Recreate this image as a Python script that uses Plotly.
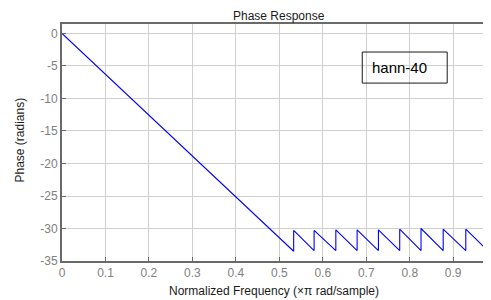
import plotly.graph_objects as go

# Phase response vertices (normalized frequency, radians)
freq = [0.0, 0.533, 0.533, 0.580, 0.580, 0.630, 0.630, 0.679, 0.679, 0.728, 0.728,
        0.777, 0.777, 0.826, 0.826, 0.877, 0.877, 0.929, 0.929, 0.978, 0.978, 0.995]
phase = [0.0, -33.5, -30.3, -33.4, -30.3, -33.4, -30.2, -33.4, -30.2, -33.4, -30.2,
         -33.4, -30.1, -33.4, -30.0, -33.4, -30.1, -33.4, -30.1, -33.3, -30.1, -31.2]

x_ticks = [0, 0.1, 0.2, 0.3, 0.4, 0.5, 0.6, 0.7, 0.8, 0.9]
x_tick_labels = ["0", "0.1", "0.2", "0.3", "0.4", "0.5", "0.6", "0.7", "0.8", "0.9"]
y_ticks = [0, -5, -10, -15, -20, -25, -30, -35]
y_tick_labels = ["0", "-5", "-10", "-15", "-20", "-25", "-30", "-35"]

title_text = "Phase Response"
x_title = "Normalized Frequency (\u00d7\u03c0 rad/sample)"
y_title = "Phase (radians)"
legend_text = "hann-40"

FONT = "Liberation Sans, Arial, sans-serif"

fig = go.Figure()
fig.add_trace(go.Scatter(x=freq, y=phase, mode="lines",
                         line=dict(color="#0000ff", width=1.1), showlegend=False,
                         hoverinfo="skip"))

# the page body has an 8px default margin, so the figure is shifted to compensate
fig.update_layout(
    width=483, height=292,
    margin=dict(l=53.5, r=0, t=16, b=39, autoexpand=False),
    paper_bgcolor="white", plot_bgcolor="white",
    font=dict(family=FONT, size=12, color="#808080"),
    xaxis=dict(range=[0, 0.987], tickvals=x_ticks, ticktext=x_tick_labels,
               showgrid=True, gridcolor="#cfcfcf", gridwidth=1,
               showline=True, linecolor="#6a6a6a", linewidth=2, mirror=True,
               ticks="inside", ticklen=4, tickcolor="#6a6a6a",
               zeroline=False, fixedrange=True, automargin=False,
               tickfont=dict(family=FONT, size=12, color="#808080")),
    yaxis=dict(range=[-35, 1.46], tickvals=y_ticks, ticktext=y_tick_labels,
               showgrid=True, gridcolor="#cfcfcf", gridwidth=1,
               showline=True, linecolor="#6a6a6a", linewidth=2,
               ticks="inside", ticklen=4, tickcolor="#6a6a6a",
               zeroline=False, fixedrange=True, automargin=False,
               tickfont=dict(family=FONT, size=12, color="#808080")),
    annotations=[
        dict(text=title_text, xref="paper", yref="paper", x=0.505, y=1.034,
             xanchor="center", yanchor="middle", showarrow=False,
             font=dict(family=FONT, size=12, color="#1a1a1a")),
        dict(text=x_title, xref="paper", yref="paper", x=0.495, y=-0.128,
             xanchor="center", yanchor="middle", showarrow=False,
             font=dict(family=FONT, size=12, color="#1a1a1a")),
        dict(text=y_title, xref="paper", yref="paper", x=-0.097, y=0.51,
             xanchor="center", yanchor="middle", showarrow=False, textangle=-90,
             font=dict(family=FONT, size=12, color="#1a1a1a")),
        dict(text=legend_text, xref="x", yref="y", x=0.709, y=-5.24,
             xanchor="left", yanchor="middle", showarrow=False,
             font=dict(family=FONT, size=15, color="#000000")),
    ],
    shapes=[
        dict(type="rect", xref="x", yref="y", x0=0.6908, x1=0.8862, y0=-7.63, y1=-2.85,
             line=dict(color="#1a1a1a", width=1), fillcolor="rgba(0,0,0,0)", layer="above"),
    ],
)

fig.write_html("out.html")
